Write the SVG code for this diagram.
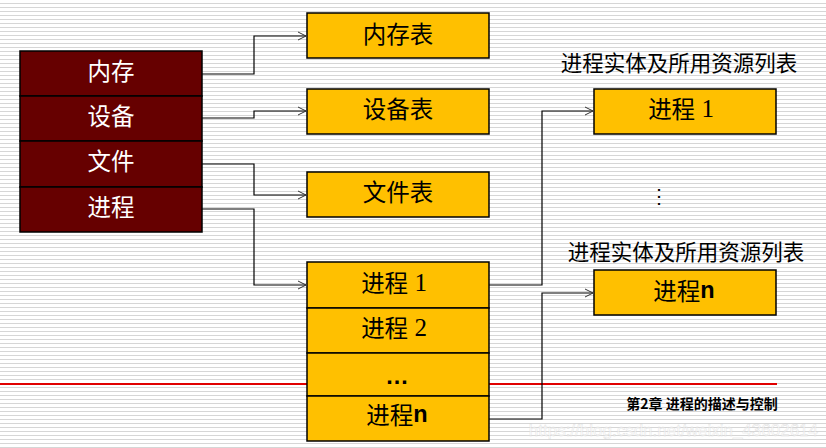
<svg xmlns="http://www.w3.org/2000/svg" width="826" height="448" viewBox="0 0 826 448">
<defs>
<pattern id="stripes" x="0" y="0" width="8" height="4" patternUnits="userSpaceOnUse">
<rect x="0" y="3" width="8" height="1.2" fill="#d6d6d6"/>
</pattern>
<marker id="arr" markerWidth="10" markerHeight="10" refX="9" refY="5" orient="auto" markerUnits="userSpaceOnUse">
<path d="M1,1 L9,5 L1,9" fill="none" stroke="#333" stroke-width="1"/>
</marker>
<style>
.cn{font-family:"Noto Sans CJK SC","Liberation Serif",serif;}
.lbl{font-size:23.5px;text-anchor:middle;dominant-baseline:central;}
.dark{fill:#660000;stroke:#000;stroke-width:1.5;}
.gold{fill:#FFC000;stroke:#000;stroke-width:1.5;}
.wl{fill:#fff;}
.bl{fill:#000;}
.conn{fill:none;stroke:#000;stroke-width:1.2;}
.num{font-family:"Liberation Serif",serif;font-size:25px;}
.bn{font-family:"Liberation Sans",sans-serif;font-weight:bold;}
.ttl{font-size:21.5px;text-anchor:middle;}
</style>
</defs>
<rect width="826" height="448" fill="#fff"/>
<rect width="826" height="448" fill="url(#stripes)"/>
<line x1="0" y1="384" x2="777" y2="384" stroke="#e00000" stroke-width="2"/>

<g id="left-table">
<rect class="dark" x="20" y="51" width="182" height="45"/>
<rect class="dark" x="20" y="96" width="182" height="45"/>
<rect class="dark" x="20" y="141" width="182" height="46"/>
<rect class="dark" x="20" y="187" width="182" height="45"/>
<text class="cn lbl wl" x="111" y="70">内存</text>
<text class="cn lbl wl" x="111" y="115">设备</text>
<text class="cn lbl wl" x="111" y="160">文件</text>
<text class="cn lbl wl" x="111" y="206">进程</text>
</g>

<g id="mem-table">
<rect class="gold" x="307" y="13" width="182" height="45"/>
<text class="cn lbl bl" x="398" y="33">内存表</text>
</g>
<g id="dev-table">
<rect class="gold" x="307" y="89" width="182" height="45"/>
<text class="cn lbl bl" x="398" y="108">设备表</text>
</g>
<g id="file-table">
<rect class="gold" x="307" y="172" width="182" height="45"/>
<text class="cn lbl bl" x="398" y="191">文件表</text>
</g>

<g id="proc-table">
<rect class="gold" x="307" y="262" width="182" height="46"/>
<rect class="gold" x="307" y="308" width="182" height="45"/>
<rect class="gold" x="307" y="353" width="182" height="43"/>
<rect class="gold" x="307" y="396" width="182" height="45"/>
<text class="lbl bl" x="394" y="282"><tspan class="cn">进程</tspan><tspan class="num"> 1</tspan></text>
<text class="lbl bl" x="394" y="327"><tspan class="cn">进程</tspan><tspan class="num"> 2</tspan></text>
<text class="lbl bl" x="397" y="376" font-family="Liberation Sans,sans-serif" font-weight="bold" font-size="20">…</text>
<text class="lbl bl" x="397" y="414"><tspan class="cn">进程</tspan><tspan class="bn">n</tspan></text>
</g>

<g id="proc1-entity">
<text class="cn bl ttl" x="679" y="71">进程实体及所用资源列表</text>
<rect class="gold" x="594" y="89" width="182" height="45"/>
<text class="lbl bl" x="681" y="108"><tspan class="cn">进程</tspan><tspan class="num"> 1</tspan></text>
</g>

<g id="vdots">
<text class="bl" x="659" y="203" font-family="Liberation Serif,serif" font-size="20" text-anchor="middle">⋮</text>
</g>

<g id="procn-entity">
<text class="cn bl ttl" x="686" y="260">进程实体及所用资源列表</text>
<rect class="gold" x="594" y="270" width="182" height="45"/>
<text class="lbl bl" x="684" y="290"><tspan class="cn">进程</tspan><tspan class="bn">n</tspan></text>
</g>

<g id="connectors">
<polyline class="conn" points="202,74 254,74 254,36 306,36" marker-end="url(#arr)"/>
<polyline class="conn" points="202,118 254,118 254,111 306,111" marker-end="url(#arr)"/>
<polyline class="conn" points="202,164 254,164 254,195 306,195" marker-end="url(#arr)"/>
<polyline class="conn" points="202,209 254,209 254,285 306,285" marker-end="url(#arr)"/>
<polyline class="conn" points="489,285 542,285 542,111 593,111" marker-end="url(#arr)"/>
<polyline class="conn" points="489,419 542,419 542,293 593,293" marker-end="url(#arr)"/>
</g>

<g id="footer">
<text class="cn" x="702" y="409" font-size="14" font-weight="bold" text-anchor="middle" fill="#000">第2章 进程的描述与控制</text>
<text x="818" y="436" font-family="Liberation Sans,sans-serif" font-size="17" text-anchor="end" fill="#fff" stroke="#cfcfcf" stroke-width="0.4" opacity="0.7">https://blog.csdn.net/weixin_43602614</text>
</g>
</svg>
